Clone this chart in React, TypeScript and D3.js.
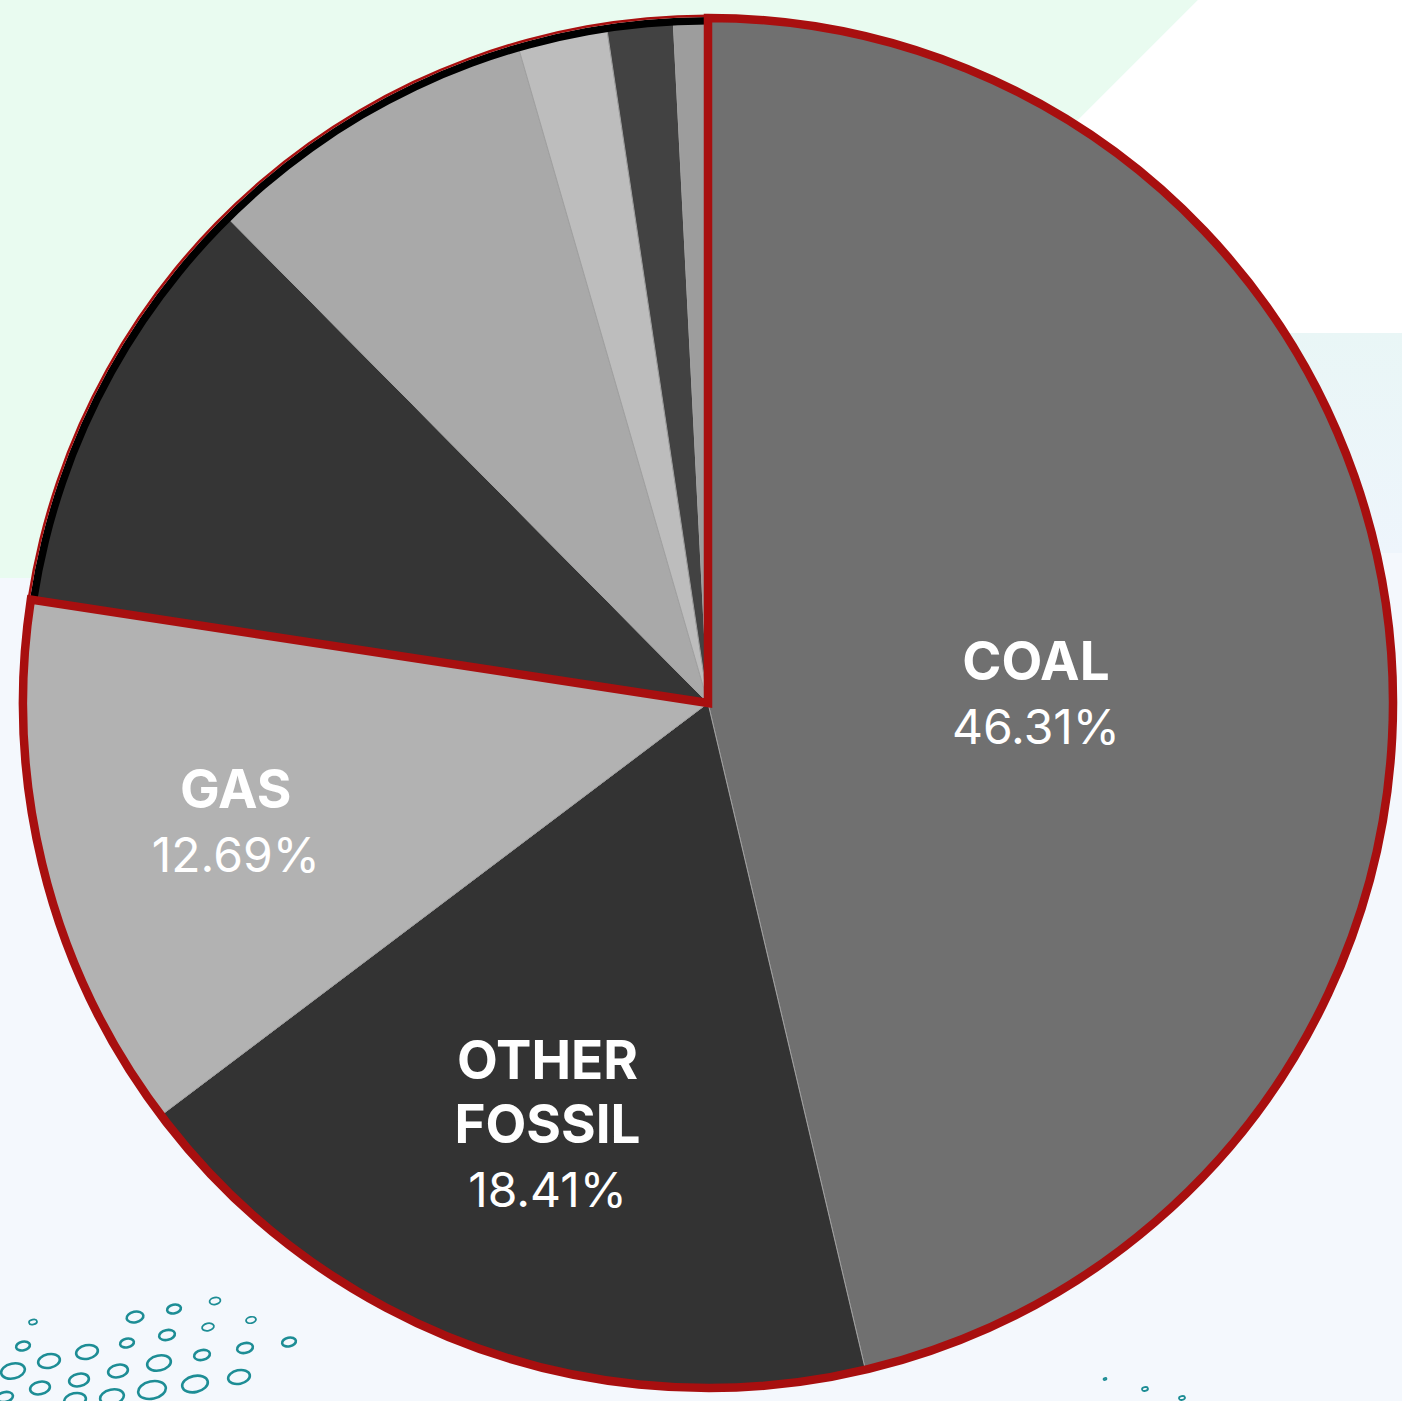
import React from "react";
import * as d3 from "d3";

// ---- data ----
const categories = ["COAL", "OTHER FOSSIL", "GAS", "HYDRO", "NUCLEAR", "WIND", "SOLAR", "OTHER"];
const shares = [46.31, 18.41, 12.69, 10.17, 7.94, 2.11, 1.56, 0.81];
const colors = ["#707070", "#333333", "#b2b2b2", "#353535", "#a9a9a9", "#bdbdbd", "#424242", "#9d9d9d"];
const fossilCategories = ["COAL", "OTHER FOSSIL", "GAS"];
const labelLines: Record<string, string[]> = {
  COAL: ["COAL"],
  "OTHER FOSSIL": ["OTHER", "FOSSIL"],
  GAS: ["GAS"],
};

// ---- layout constants ----
const W = 1402;
const H = 1401;
const CX = 708;
const CY = 703;
const R = 685;
const labelRadius: Record<string, number> = { COAL: 0.482, "OTHER FOSSIL": 0.69, GAS: 0.711 };
const labelShiftY: Record<string, number> = { COAL: 29, "OTHER FOSSIL": -23, GAS: 0 };

// decorative ring pattern (background ornament)
const ringsX = [33, 135, 174, 215, 251, 208, 167, 127, 23, 87, 49, 13, 118, 159, 202, 245, 289, 79, 40, 195, 239, 152, 112, 75, 5, 1105, 1145, 1182];
const ringsY = [1322, 1317, 1309, 1301, 1320, 1327, 1335, 1343, 1346, 1352, 1361, 1371, 1371, 1363, 1355, 1348, 1342, 1380, 1388, 1384, 1377, 1390, 1397, 1400, 1397, 1379, 1389, 1398];
const ringsRx = [4, 8.5, 7, 5.5, 5, 6, 8, 7, 7, 11, 11, 12, 10, 12, 8, 8, 7, 10, 10, 13, 11, 14, 12, 11, 8, 1.5, 3, 3];

export default function App() {
  const pie = d3.pie<number>().sort(null).value((d) => d).startAngle(0).endAngle(2 * Math.PI);
  const arcs = pie(shares);
  const arcGen = d3.arc<d3.PieArcDatum<number>>().innerRadius(0).outerRadius(R);

  const fossilEnd = arcs[categories.indexOf(fossilCategories[fossilCategories.length - 1])].endAngle;
  const fossilOutline = d3.arc()({ innerRadius: 0, outerRadius: R, startAngle: 0, endAngle: fossilEnd }) as string;
  const blackBand = d3.arc()({ innerRadius: R - 6.5, outerRadius: R + 1, startAngle: fossilEnd, endAngle: 2 * Math.PI }) as string;
  const redThin = d3.arc()({ innerRadius: R + 1, outerRadius: R + 3.5, startAngle: fossilEnd, endAngle: 2 * Math.PI }) as string;

  const nameSize = 53;
  const pctSize = 48;
  const lineGap = 64;
  const capHalf = 18;

  return (
    <svg width={W} height={H} style={{ position: "absolute", left: 0, top: 0, display: "block" }}>
      <defs>
        <linearGradient id="bgRight" x1="0" y1="0" x2="0" y2="1">
          <stop offset="0" stopColor="#e9f6f6" />
          <stop offset="1" stopColor="#eef5fc" />
        </linearGradient>
      </defs>
      <rect x={0} y={0} width={W} height={H} fill="#f4f8fd" />
      <polygon points={`0,0 1198,0 620,578 0,578`} fill="#e9fbf0" />
      <rect x={700} y={333} width={702} height={220} fill="url(#bgRight)" />
      <polygon points={`1198,0 1402,0 1402,333 865,333`} fill="#ffffff" />

      {ringsX.map((x, i) => (
        <ellipse
          key={i}
          cx={x}
          cy={ringsY[i]}
          rx={ringsRx[i]}
          ry={ringsRx[i] * 0.62}
          transform={`rotate(-12 ${x} ${ringsY[i]})`}
          fill="none"
          stroke="#1d8d95"
          strokeWidth={ringsRx[i] > 6 ? 2.6 : 1.8}
        />
      ))}

      <g transform={`translate(${CX},${CY})`}>
        {arcs.map((a, i) => (
          <path key={categories[i]} d={arcGen(a) as string} fill={colors[i]} stroke="#a0a0a0" strokeWidth={1} />
        ))}
        <path d={blackBand} fill="#000000" />
        <path d={redThin} fill="#a80f0f" />
        <path d={fossilOutline} fill="none" stroke="#a80f0f" strokeWidth={8.5} strokeLinejoin="miter" />

        {arcs.map((a, i) => {
          const name = categories[i];
          const lines = labelLines[name];
          if (!lines) return null;
          const mid = (a.startAngle + a.endAngle) / 2;
          const r = R * labelRadius[name];
          const x = Math.sin(mid) * r;
          const y = -Math.cos(mid) * r + labelShiftY[name];
          const all = [...lines, `${shares[i].toFixed(2)}%`];
          const n = all.length;
          return (
            <g key={name} fill="#ffffff" fontFamily="Inter, 'Noto Sans', sans-serif" textAnchor="middle">
              {all.map((t, j) => (
                <text
                  key={j}
                  x={x}
                  y={y - ((n - 1) * lineGap) / 2 + capHalf + j * lineGap}
                  fontSize={j < lines.length ? nameSize : pctSize}
                  fontWeight={j < lines.length ? 700 : 400}
                >
                  {t}
                </text>
              ))}
            </g>
          );
        })}
      </g>
    </svg>
  );
}
